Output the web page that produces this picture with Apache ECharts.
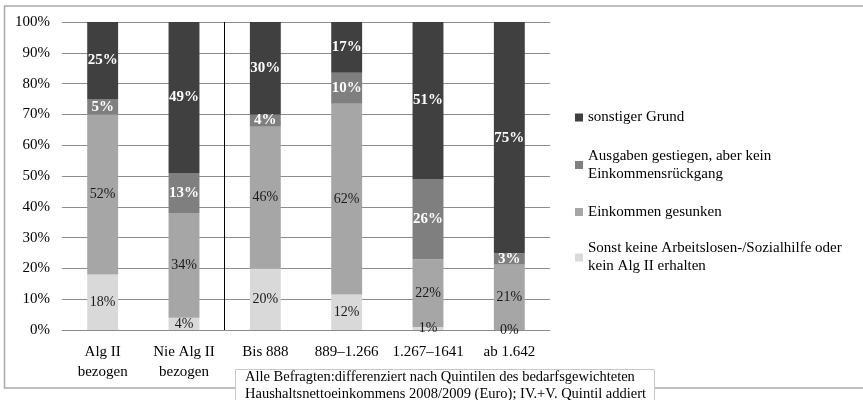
<!DOCTYPE html>
<html>
<head>
<meta charset="utf-8">
<script src="https://cdn.jsdelivr.net/npm/echarts@6/dist/echarts.min.js"></script>
<style>
html,body{margin:0;padding:0;background:#fff;}
#chart{width:863px;height:400px;}
</style>
</head>
<body>
<div id="chart"></div>
<script>
// ---- data ----
var categories = ['Alg II\nbezogen', 'Nie Alg II\nbezogen', 'Bis 888', '889–1.266', '1.267–1641', 'ab 1.642'];
var seriesNames = [
  'Sonst keine Arbeitslosen-/Sozialhilfe oder\nkein Alg II erhalten',
  'Einkommen gesunken',
  'Ausgaben gestiegen, aber kein\nEinkommensrückgang',
  'sonstiger Grund'
];
var keineHilfe = [18, 4, 20, 11.5, 1, 0];
var einkommenGesunken = [52, 34, 46, 62, 22, 21.4];
var ausgabenGestiegen = [5, 13, 4, 10, 26, 3.4];
var sonstigerGrund = [25, 49, 30, 16.5, 51, 75.2];
var yTicks = [0, 10, 20, 30, 40, 50, 60, 70, 80, 90, 100];
var footnote = 'Alle Befragten:differenziert nach Quintilen des bedarfsgewichteten\nHaushaltsnettoeinkommens 2008/2009 (Euro); IV.+V. Quintil addiert';

var colors = ['#d9d9d9', '#a6a6a6', '#7f7f7f', '#404040'];
var FONT = '"Liberation Serif", "Times New Roman", serif';

function makeSeries(name, data, color, dark) {
  return {
    name: name,
    type: 'bar',
    stack: 'total',
    barWidth: '38%',
    data: data,
    itemStyle: { color: color },
    label: {
      show: true,
      position: 'inside',
      formatter: function (p) { return Math.round(p.value) + '%'; },
      fontFamily: FONT,
      fontSize: dark ? 15 : 14,
      fontWeight: dark ? 'bold' : 'normal',
      color: dark ? '#ffffff' : '#1a1a1a'
    }
  };
}

function legendItem(name, top, twoLine) {
  return {
    data: [name],
    left: 575,
    top: top,
    orient: 'vertical',
    padding: 0,
    itemGap: 0,
    itemWidth: 8,
    itemHeight: 8,
    icon: 'rect',
    selectedMode: false,
    textStyle: {
      fontFamily: FONT,
      fontSize: 15,
      color: '#000',
      lineHeight: 18,
      padding: twoLine ? [18, 0, 0, 0] : 0
    }
  };
}

var chart = echarts.init(document.getElementById('chart'));
chart.setOption({
  animation: false,
  backgroundColor: '#fff',
  grid: { left: 62, right: 313, top: 22, bottom: 70, containLabel: false, outerBoundsMode: 'none' },
  legend: [
    legendItem(seriesNames[3], 108.5, false),
    legendItem(seriesNames[2], 138, true),
    legendItem(seriesNames[1], 203, false),
    legendItem(seriesNames[0], 230.5, true)
  ],
  xAxis: {
    type: 'category',
    data: categories,
    axisTick: { show: false },
    axisLine: { lineStyle: { color: '#8c8c8c', width: 1 } },
    axisLabel: { fontFamily: FONT, fontSize: 15, color: '#000', lineHeight: 20, margin: 12, interval: 0 },
    splitLine: {
      show: true,
      interval: function (index) { return index === 0 || index === 2; },
      lineStyle: { color: ['rgba(0,0,0,0)', '#000000'], width: 1 }
    }
  },
  yAxis: {
    type: 'value',
    min: yTicks[0],
    max: yTicks[yTicks.length - 1],
    interval: yTicks[1] - yTicks[0],
    axisLine: { show: false },
    axisTick: { show: false },
    axisLabel: { formatter: '{value}%', fontFamily: FONT, fontSize: 15, color: '#000', margin: 12 },
    splitLine: { lineStyle: { color: '#8c8c8c', width: 1 } }
  },
  series: [
    makeSeries(seriesNames[0], keineHilfe, colors[0], false),
    makeSeries(seriesNames[1], einkommenGesunken, colors[1], false),
    makeSeries(seriesNames[2], ausgabenGestiegen, colors[2], true),
    makeSeries(seriesNames[3], sonstigerGrund, colors[3], true)
  ],
  graphic: [
    {
      type: 'rect', silent: true, z: -1,
      shape: { x: 4.5, y: 6, width: 900, height: 382 },
      style: { fill: 'none', stroke: '#a9a9a9', lineWidth: 1.5 }
    },
    {
      type: 'group', z: 100,
      children: [
        {
          type: 'rect', silent: true,
          shape: { x: 235.5, y: 369.5, width: 419, height: 40 },
          style: { fill: '#fff', stroke: '#c8c8c8', lineWidth: 1 }
        },
        {
          type: 'text', silent: true, x: 245, y: 369,
          style: { text: footnote, font: '14.5px ' + FONT, fill: '#000', lineHeight: 16.5, verticalAlign: 'top' }
        }
      ]
    }
  ]
});
</script>
</body>
</html>
